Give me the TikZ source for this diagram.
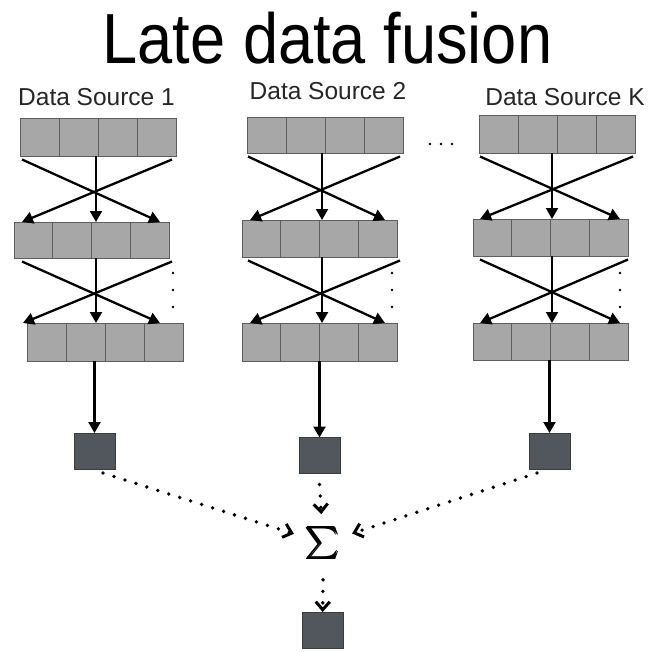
\documentclass[tikz,border=0pt]{standalone}
\usepackage{graphicx}
\usepackage{amsbsy}
\usepackage{fontspec}
\setmainfont{Liberation Sans}
\usetikzlibrary{arrows.meta,calc}

\definecolor{cellfill}{HTML}{A7A7A7}
\definecolor{celledge}{HTML}{5E5E5E}
\definecolor{poolfill}{HTML}{52565D}
\definecolor{pooledge}{HTML}{3C3C3C}
\definecolor{textgray}{HTML}{262626}

\tikzset{
  rowbox/.style={draw=celledge, fill=cellfill, line width=1pt, inner sep=0pt,
    outer sep=0pt, anchor=north west},
  cellline/.style={draw=celledge, line width=1pt},
  flow/.style={line width=2.3pt, -{Triangle[length=11pt,width=12pt]}},
  pooled/.style={draw=pooledge, fill=poolfill, line width=1pt, minimum width=41pt,
    minimum height=36pt, inner sep=0pt, outer sep=0pt},
  fuse/.style={line width=3.8pt, line cap=round, dash pattern=on 0pt off 11.5pt,
    -{Straight Barb[length=8pt,width=14pt,line width=3pt]}},
  srclabel/.style={font=\fontsize{24.5}{24.5}\selectfont, text=textgray, anchor=base,
    inner sep=0pt},
}

% one layer of four cells: name, left, top, width, height
\newcommand\layerrow[5]{%
  \node[rowbox, minimum width=#4pt, minimum height=#5pt] (#1) at (#2,#3) {};
  \foreach \k in {1,2,3}
    \draw[cellline] ($(#1.north west)!\k/4!(#1.north east)$) --
                    ($(#1.south west)!\k/4!(#1.south east)$);
}

% crossed connections between two layers:
% upper, lower, left start dx, right start dx, left end dx, right end dx, column axis
\newcommand\crossing[7]{%
  \draw[flow] ($(#1.south west)+(#3,3.5)$) -- ($(#2.north east)+(#6,0)$);
  \draw[flow] ($(#1.south east)+(#4,3.5)$) -- ($(#2.north west)+(#5,0)$);
  \draw[flow] (#1.south -| #7) -- (#2.north -| #7);
}

\begin{document}
\begin{tikzpicture}[x=1pt,y=-1pt]
\useasboundingbox (0,0) rectangle (655,651);

% heading
\node[anchor=base, inner sep=0pt] (title) at (327.5,63)
  {\scalebox{0.89}[1]{\fontsize{71}{71}\selectfont Late data fusion}};

% column labels
\node[srclabel] (s1) at (96.5,105.5) {Data Source 1};
\node[srclabel] (s2) at (328,99) {Data Source 2};
\node[srclabel] (sk) at (565,105) {Data Source K};

% column axes
\coordinate (x1) at (96,0);
\coordinate (x2) at (322,0);
\coordinate (x3) at (552,0);

% source 1
\layerrow{a1}{20}{118}{156}{38}
\layerrow{a2}{14}{222}{155}{36}
\layerrow{a3}{27}{323}{156}{38}
\crossing{a1}{a2}{2}{-4}{8}{-9}{x1}
\crossing{a2}{a3}{8}{3}{-4}{-23}{x1}

% source 2
\layerrow{b1}{247}{117}{156}{36}
\layerrow{b2}{242}{220}{155}{37}
\layerrow{b3}{242}{323}{155}{38}
\crossing{b1}{b2}{1}{-3}{8}{-12}{x2}
\crossing{b2}{b3}{6}{3}{8}{-12}{x2}

% source K
\layerrow{k1}{479}{115}{156}{38}
\layerrow{k2}{473}{219}{155}{37}
\layerrow{k3}{473}{323}{155}{37}
\crossing{k1}{k2}{1}{-2}{7}{-8}{x3}
\crossing{k2}{k3}{7}{0}{7}{-8}{x3}

% vertical ellipses beside the stacks
\foreach \px in {173,392,620}
  \foreach \py in {273,290,307}
    \fill (\px,\py) circle (1.3);

% ellipsis between source 2 and source K
\foreach \px in {430,441,452}
  \fill (\px,144) circle (1.3);

% per-source outputs
\node[pooled] (p1) at (94.5,451) {};
\node[pooled] (p2) at (319.5,455.5) {};
\node[pooled] (p3) at (549.5,451) {};
\draw[flow] (a3.south -| p1) -- (p1.north);
\draw[flow] (b3.south -| p2) -- (p2.north);
\draw[flow] (k3.south -| p3) -- (p3.north);

% fusion
\node[inner sep=12pt] (sum) at (323,543) {\scalebox{3.2}{\pmb{$\sum$}}};
\node[pooled] (out) at (322.5,630) {};

\draw[fuse] ($(p1.south)+(8.5,4)$) -- (sum);
\draw[fuse] ($(p3.south)+(-12.5,4)$) -- (sum);
\draw[fuse] ($(p2.south)+(0,11)$) -- (sum);
\draw[fuse] ($(sum.south)+(0,8)$) -- (out);
\end{tikzpicture}
\end{document}
